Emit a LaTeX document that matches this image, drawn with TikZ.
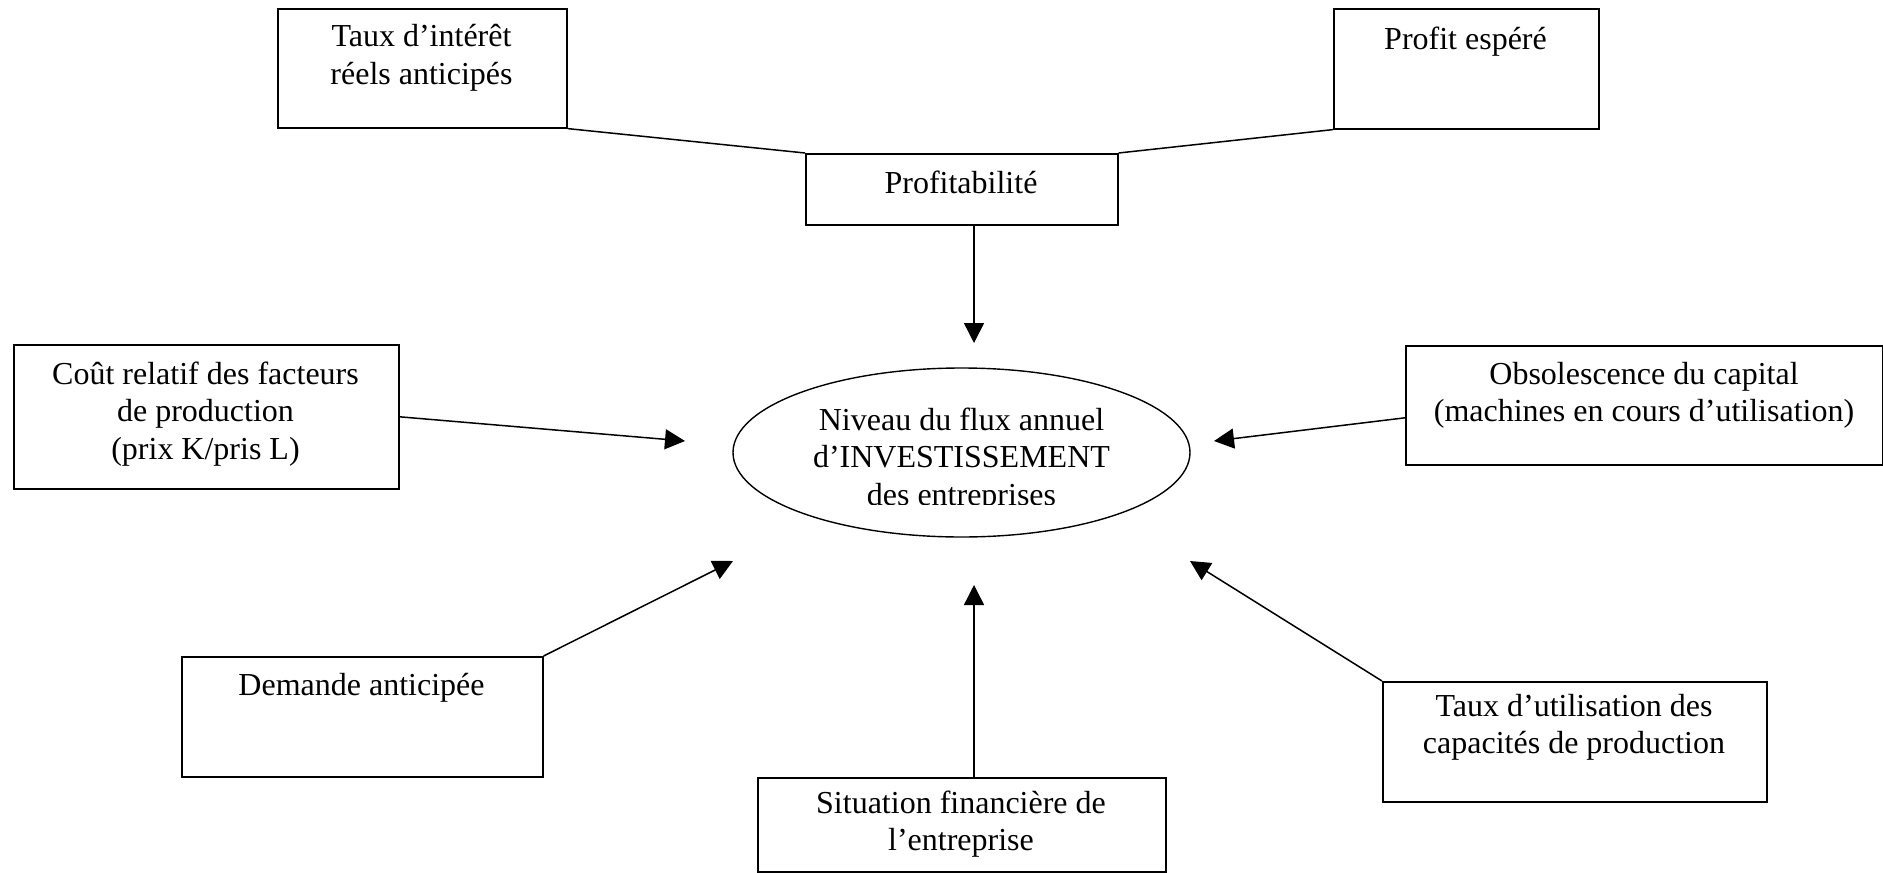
\documentclass[tikz,border=0pt]{standalone}
\usepackage{fontspec}
\setmainfont{Liberation Serif}
\usetikzlibrary{arrows.meta,shapes.geometric}
\newcommand\mlines[1]{\begin{tabular}[t]{@{}c@{}}#1\end{tabular}}
\begin{document}
\begin{tikzpicture}[x=0.5pt,y=-0.5pt,
  box/.style={draw, line width=0.8pt, rectangle, inner sep=0pt, anchor=north west},
  lbl/.style={inner sep=0pt, anchor=base, font=\fontsize{16}{18.75}\selectfont},
  link/.style={line width=0.75pt},
  arr/.style={line width=0.75pt, -{Triangle[width=10pt,length=10pt]}}]
\fill[white] (0,0) rectangle (1883,872);
\useasboundingbox (0,0) rectangle (1883,872);

% boxes
\node[box, minimum width=144.5pt, minimum height=59.5pt] (ti) at (277,8) {};
\node[box, minimum width=132.5pt, minimum height=60pt] (pe) at (1333,8) {};
\node[box, minimum width=156pt, minimum height=35.5pt] (pr) at (805,153) {};
\node[box, minimum width=192.5pt, minimum height=72pt] (cr) at (13,344) {};
\node[box, minimum width=238.5pt, minimum height=59.5pt] (ob) at (1405,345) {};
\node[box, minimum width=180.5pt, minimum height=60pt] (da) at (181,656) {};
\node[box, minimum width=204pt, minimum height=47pt] (sf) at (757,777) {};
\node[box, minimum width=192pt, minimum height=60pt] (tu) at (1382,681) {};
\node[ellipse, draw, line width=0.7pt, inner sep=0pt,
      minimum width=228.5pt, minimum height=84.5pt] (inv) at (961.5,452.5) {};

% labels
\node[lbl] (tti) at (421.5,47) {\mlines{Taux d’intérêt\\réels anticipés}};
\node[lbl] (tpe) at (1465.5,50) {Profit espéré};
\node[lbl] (tpr) at (961,193) {Profitabilité};
\node[lbl] (tcr) at (205.5,384) {\mlines{Coût relatif des facteurs\\de production\\(prix K/pris L)}};
\node[lbl] (tob) at (1644,384) {\mlines{Obsolescence du capital\\(machines en cours d’utilisation)}};
\node[lbl] (tda) at (361.5,695) {Demande anticipée};
\node[lbl] (tsf) at (961,813) {\mlines{Situation financière de\\l’entreprise}};
\node[lbl] (ttu) at (1574,716) {\mlines{Taux d’utilisation des\\capacités de production}};
\begin{scope}
  \clip (720,380) rectangle (1200,504);
  \node[lbl] (tinv) at (961.5,430) {\mlines{Niveau du flux annuel\\d’INVESTISSEMENT\\des entreprises}};
\end{scope}

% arrow tips
\coordinate (a1) at (974,343);
\coordinate (a2) at (685,441);
\coordinate (a3) at (1214,441);
\coordinate (a4) at (733,561);
\coordinate (a5) at (974,585);
\coordinate (a6) at (1190,561);

% connectors
\draw[link] (ti.south east) -- (pr.north west);
\draw[link] (pe.south west) -- (pr.north east);
\draw[arr] (pr.south -| a1) -- (a1);
\draw[arr] (cr.east) -- (a2);
\draw[arr] ([yshift=-6.25pt]ob.west) -- (a3);
\draw[arr] (da.north east) -- (a4);
\draw[arr] (sf.north -| a5) -- (a5);
\draw[arr] (tu.north west) -- (a6);
\end{tikzpicture}
\end{document}
